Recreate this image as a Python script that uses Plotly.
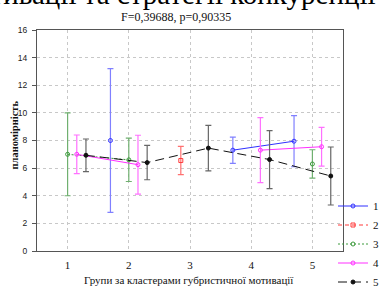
import plotly.graph_objects as go

# ---- data ----
categories = [1, 2, 3, 4, 5]
series_names = ["1", "2", "3", "4", "5"]

s1_mean = [None, 8.0, None, 7.3, 7.95]
s1_err = [None, 5.2, None, 0.95, 1.85]

s2_mean = [None, None, 6.55, None, None]
s2_err = [None, None, 1.02, None, None]

s3_mean = [7.0, 6.6, None, None, 6.3]
s3_err = [3.0, 1.57, None, None, 1.03]

s4_mean = [7.0, 6.25, None, 7.3, 7.55]
s4_err = [1.4, 2.13, None, 2.35, 1.4]

s5_mean = [6.93, 6.4, 7.45, 6.62, 5.43]
s5_err = [1.18, 1.24, 1.65, 2.1, 2.1]

subtitle = "F=0,39688, p=0,90335"
x_title = "Групи за кластерами губристичної мотивації"
y_title = "планомірність"
top_text = "мотивації та стратегії конкуренції"

# ---- styling ----
offsets = [-0.3, -0.15, 0.0, 0.15, 0.3]
line_cols = ["#3030ff", "#ff3b3b", "#3c9a3c", "#ff30ff", "#111111"]
err_cols = ["#8080ff", "#ff7070", "#70b070", "#ff70ff", "#666666"]
dashes = ["solid", "4px,3px", "2px,2px", "solid", "9px,5px"]
symbols = ["circle-open", "square-open", "circle-open", "circle-open", "circle"]

means = [s1_mean, s2_mean, s3_mean, s4_mean, s5_mean]
errs = [s1_err, s2_err, s3_err, s4_err, s5_err]

serif = "Liberation Serif, Times New Roman, serif"
sans = "Liberation Sans, Arial, sans-serif"

W, H = 380, 287
L, R, T, B = 37, 37, 30, 36
PW, PH = W - L - R, H - T - B


def px_x(p):
    return (p - L) / PW


def px_y(p):
    return (H - B - p) / PH


fig = go.Figure()
for i in range(5):
    xs = [c + offsets[i] for c in categories]
    fig.add_trace(go.Scatter(
        x=xs, y=means[i], name=series_names[i], mode="lines+markers",
        connectgaps=False,
        line=dict(color=line_cols[i], width=1, dash=dashes[i]),
        marker=dict(symbol=symbols[i], size=4, color=line_cols[i],
                    line=dict(color=line_cols[i], width=1)),
        error_y=dict(type="data", array=errs[i], visible=True,
                     color=err_cols[i], thickness=1.2, width=3),
    ))

fig.update_layout(
    width=W, height=H,
    margin=dict(l=L, r=R, t=T, b=B, autoexpand=False),
    paper_bgcolor="white", plot_bgcolor="white",
    showlegend=True,
    legend=dict(x=px_x(333), xanchor="left", y=px_y(244), yanchor="middle",
                font=dict(family=serif, size=11, color="#111"),
                bgcolor="rgba(0,0,0,0)", itemwidth=30,
                tracegroupgap=0, borderwidth=0),
    font=dict(family=serif, color="#111"),
)
fig.update_xaxes(
    range=[0.5, 5.5], tickvals=categories, ticktext=[str(c) for c in categories],
    showgrid=True, gridcolor="#c8c8c8", griddash="dot", gridwidth=1,
    showline=True, linecolor="#555", linewidth=1, mirror=True,
    zeroline=False, ticks="", ticklabelstandoff=4, automargin=False,
    tickfont=dict(family=serif, size=11, color="#111"),
)
fig.update_yaxes(
    range=[0, 16], tickvals=list(range(0, 17, 2)),
    showgrid=True, gridcolor="#c8c8c8", griddash="dot", gridwidth=1,
    showline=True, linecolor="#555", linewidth=1, mirror=True,
    zeroline=False, ticks="outside", ticklen=4, tickcolor="#555", automargin=False,
    ticklabelstandoff=3,
    tickfont=dict(family=sans, size=8.5, color="#222"),
)
fig.add_annotation(text=x_title, xref="paper", yref="paper",
                   x=px_x(189), y=px_y(280), xanchor="center", yanchor="middle",
                   showarrow=False, font=dict(family=serif, size=11, color="#111"))
fig.add_annotation(text="<b>" + y_title + "</b>", xref="paper", yref="paper",
                   x=px_x(13.5), y=px_y(135), xanchor="center", yanchor="middle", textangle=-90,
                   showarrow=False, font=dict(family=serif, size=10.5, color="#111"))
fig.add_annotation(text=subtitle, xref="paper", yref="paper",
                   x=px_x(176), y=px_y(17.5), xanchor="center", yanchor="middle",
                   showarrow=False, font=dict(family=serif, size=12, color="#111"))
fig.add_annotation(text=top_text, xref="paper", yref="paper",
                   x=px_x(-44), y=px_y(12), xanchor="left", yanchor="bottom",
                   showarrow=False, font=dict(family=serif, size=29, color="#000"))

fig.write_html("out.html", config={"displayModeBar": False},
               post_script="document.body.style.margin='0';document.body.style.padding='0';")
